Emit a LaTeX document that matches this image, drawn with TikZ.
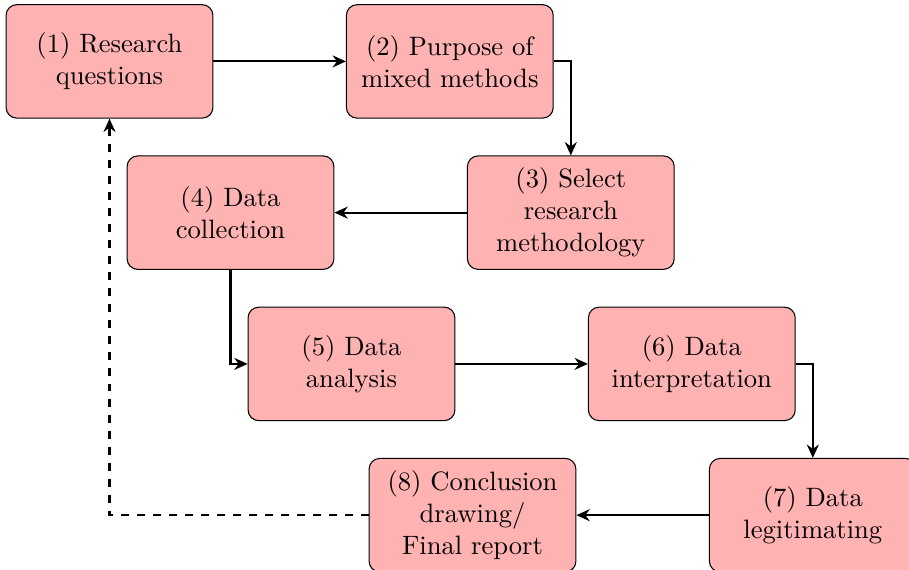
\documentclass[tikz,border=0pt]{standalone}
\usetikzlibrary{arrows.meta}
\begin{document}
\begin{tikzpicture}[
  stepbox/.style={draw, fill=red!30, rounded corners=4pt, text width=2.5cm, align=center, minimum height=1.5cm},
  conn/.style={thick, -{Stealth[length=5pt,width=4.5pt]}}
]
\useasboundingbox (-41.2pt,23.1pt) rectangle (300.8pt,-191.3pt);
\node[stepbox] (n1) at (0,0) {(1) Research\\questions};
\node[stepbox] (n2) at (4.5,0) {(2) Purpose of\\mixed methods};
\node[stepbox] (n3) at (6.1,-2) {(3) Select\\research\\methodology};
\node[stepbox] (n4) at (1.6,-2) {(4) Data\\collection};
\node[stepbox] (n5) at (3.2,-4) {(5) Data\\analysis};
\node[stepbox] (n6) at (7.7,-4) {(6) Data\\interpretation};
\node[stepbox] (n7) at (9.3,-6) {(7) Data\\legitimating};
\node[stepbox] (n8) at (4.8,-6) {(8) Conclusion\\drawing/\\Final report};
\draw[conn] (n1.east) -- (n2.west);
\draw[conn] (n2.east) -| (n3.north);
\draw[conn] (n3.west) -- (n4.east);
\draw[conn] (n4.south) |- (n5.west);
\draw[conn] (n5.east) -- (n6.west);
\draw[conn] (n6.east) -| (n7.north);
\draw[conn] (n7.west) -- (n8.east);
\draw[conn, dashed] (n8.west) -| (n1.south);
\end{tikzpicture}
\end{document}
